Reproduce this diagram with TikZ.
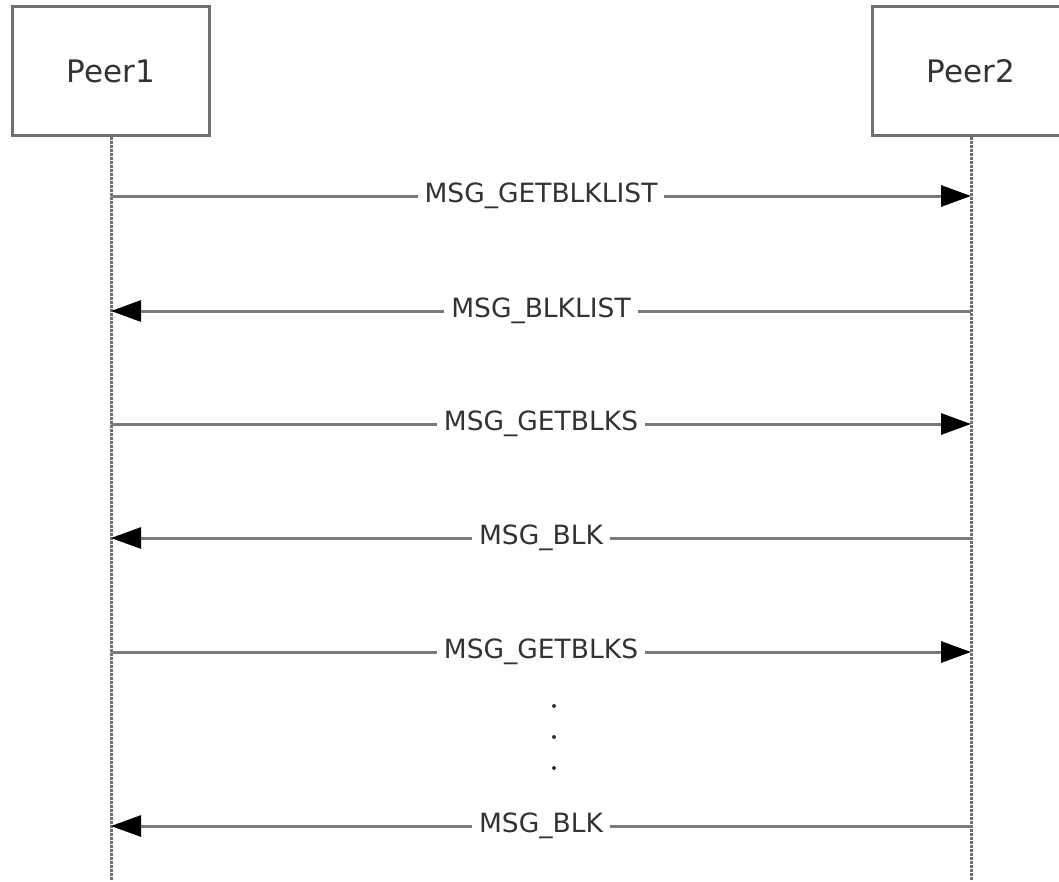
\documentclass[tikz,border=0pt]{standalone}
\usepackage{fontspec}
\setmainfont{DejaVu Sans}
\usepackage{tikz}
\usetikzlibrary{arrows.meta,positioning}
\definecolor{linie}{HTML}{7A7A7A}
\definecolor{rahmen}{HTML}{707070}
\definecolor{schrift}{HTML}{333333}
\begin{document}
\begin{tikzpicture}[x=1pt,y=-1pt,
  peer/.style={draw=rahmen,line width=3.5pt,fill=white,minimum width=197pt,minimum height=129pt,text=schrift,font=\fontsize{31}{36}\selectfont},
  lebenslinie/.style={draw=rahmen,line width=3pt,dash pattern=on 2.5pt off 1.5pt},
  nachricht/.style={draw=linie,line width=3pt,-{Triangle[length=30pt,width=21pt,color=black]}},
  beschriftung/.style={fill=white,text=schrift,inner xsep=7pt,inner ysep=2pt,font=\fontsize{26.5}{30}\selectfont}]
\useasboundingbox (0,0) rectangle (1059,881);
\clip (0,0) rectangle (1059,881);
%Lebenslinien zuerst, die Kaesten liegen darueber
\coordinate (endeA) at (111,881);
\coordinate (endeB) at (971,881);
\draw[lebenslinie] (111,137) -- (endeA);
\draw[lebenslinie] (971,137) -- (endeB);
\node[peer] (peerA) at (111,71) {Peer1};
\node[peer] (peerB) at (971,71) {Peer2};
%Nachrichten: y-Wert / von / nach / Text
\foreach \y/\von/\nach/\txt [count=\n] in {196/A/B/MSG\_GETBLKLIST,311/B/A/MSG\_BLKLIST,424/A/B/MSG\_GETBLKS,538/B/A/MSG\_BLK,652/A/B/MSG\_GETBLKS,826/B/A/MSG\_BLK}{
  \coordinate (A\n) at (peerA.center |- 0,\y);
  \coordinate (B\n) at (peerB.center |- 0,\y);
  \draw[nachricht] (\von\n) -- node[beschriftung] {\txt} (\nach\n);
}
%Auslassungspunkte
\foreach \y in {706,737,768}{
  \fill[schrift] (554,\y) circle (2pt);
}
\end{tikzpicture}
\end{document}
